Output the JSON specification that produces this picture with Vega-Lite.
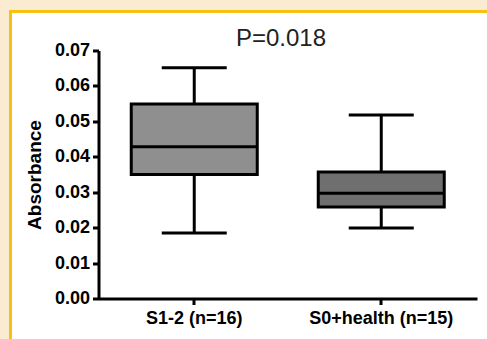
{
  "$schema": "https://vega.github.io/schema/vega-lite/v6.json",
  "autosize": {"type": "none"},
  "padding": {"left": 10.5, "top": 11.5, "right": 0, "bottom": 0},
  "width": 480,
  "height": 330,
  "background": "#FBEBD1",
  "config": {
    "view": {"fill": "white", "stroke": "#F5C211", "strokeWidth": 3},
    "font": "Liberation Sans"
  },
  "title": {
    "text": "P=0.018",
    "fontSize": 24,
    "fontWeight": "normal",
    "color": "#222222",
    "font": "Liberation Sans",
    "anchor": "middle",
    "frame": "group",
    "offset": -35.5,
    "baseline": "alphabetic",
    "dx": 30.5,
    "dy": 23
  },
  "data": {
    "values": [
      {"group": "S1-2 (n=16)", "min": 0.0185, "q1": 0.035, "median": 0.0428, "q3": 0.0549, "max": 0.0651},
      {"group": "S0+health (n=15)", "min": 0.0199, "q1": 0.0258, "median": 0.0297, "q3": 0.0357, "max": 0.0518}
    ]
  },
  "encoding": {
    "x": {
      "field": "group",
      "type": "nominal",
      "sort": null,
      "scale": {"range": [88, 466.5], "paddingInner": 0, "paddingOuter": 0.012},
      "axis": {
        "title": null,
        "labelAngle": 0,
        "labelFont": "Liberation Sans",
        "labelFontSize": 18,
        "labelFontWeight": "bold",
        "labelColor": "black",
        "labelPadding": 5,
        "tickSize": 6,
        "tickWidth": 3,
        "tickColor": "black",
        "domainWidth": 3,
        "domainColor": "black",
        "offset": -43
      }
    }
  },
  "layer": [
    {
      "mark": {"type": "rule", "color": "black", "strokeWidth": 3},
      "encoding": {
        "y": {"field": "min", "type": "quantitative", "scale": {"domain": [0, 0.07], "range": [287, 39], "nice": false},
          "axis": {"title": "Absorbance", "titleFont": "Liberation Sans", "titleFontSize": 19, "titleFontWeight": "bold", "titleColor": "black", "titlePadding": 10,
            "labelFont": "Liberation Sans", "labelFontSize": 18, "labelFontWeight": "bold", "labelColor": "black", "labelPadding": 3, "format": ".2f",
            "values": [0, 0.01, 0.02, 0.03, 0.04, 0.05, 0.06, 0.07], "tickSize": 6, "tickWidth": 3, "tickColor": "black",
            "domainColor": "black", "domainWidth": 3, "grid": false, "offset": -88, "labelFlush": false, "labelOverlap": false}},
        "y2": {"field": "q1"}
      }
    },
    {
      "mark": {"type": "rule", "color": "black", "strokeWidth": 3},
      "encoding": {
        "y": {"field": "q3", "type": "quantitative", "scale": {"domain": [0, 0.07], "range": [287, 39], "nice": false},
          "axis": {"title": "Absorbance", "titleFont": "Liberation Sans", "titleFontSize": 19, "titleFontWeight": "bold", "titleColor": "black", "titlePadding": 10,
            "labelFont": "Liberation Sans", "labelFontSize": 18, "labelFontWeight": "bold", "labelColor": "black", "labelPadding": 3, "format": ".2f",
            "values": [0, 0.01, 0.02, 0.03, 0.04, 0.05, 0.06, 0.07], "tickSize": 6, "tickWidth": 3, "tickColor": "black",
            "domainColor": "black", "domainWidth": 3, "grid": false, "offset": -88, "labelFlush": false, "labelOverlap": false}},
        "y2": {"field": "max"}
      }
    },
    {
      "mark": {"type": "bar", "size": 126, "stroke": "black", "strokeWidth": 3},
      "encoding": {
        "y": {"field": "q1", "type": "quantitative", "scale": {"domain": [0, 0.07], "range": [287, 39], "nice": false},
          "axis": {"title": "Absorbance", "titleFont": "Liberation Sans", "titleFontSize": 19, "titleFontWeight": "bold", "titleColor": "black", "titlePadding": 10,
            "labelFont": "Liberation Sans", "labelFontSize": 18, "labelFontWeight": "bold", "labelColor": "black", "labelPadding": 3, "format": ".2f",
            "values": [0, 0.01, 0.02, 0.03, 0.04, 0.05, 0.06, 0.07], "tickSize": 6, "tickWidth": 3, "tickColor": "black",
            "domainColor": "black", "domainWidth": 3, "grid": false, "offset": -88, "labelFlush": false, "labelOverlap": false}},
        "y2": {"field": "q3"},
        "fill": {"field": "group", "type": "nominal", "sort": null, "scale": {"range": ["#8f8f8f", "#6f6f6f"]}, "legend": null}
      }
    },
    {
      "mark": {"type": "tick", "color": "black", "size": 126, "thickness": 3, "opacity": 1},
      "encoding": {
        "y": {"field": "median", "type": "quantitative", "scale": {"domain": [0, 0.07], "range": [287, 39], "nice": false},
          "axis": {"title": "Absorbance", "titleFont": "Liberation Sans", "titleFontSize": 19, "titleFontWeight": "bold", "titleColor": "black", "titlePadding": 10,
            "labelFont": "Liberation Sans", "labelFontSize": 18, "labelFontWeight": "bold", "labelColor": "black", "labelPadding": 3, "format": ".2f",
            "values": [0, 0.01, 0.02, 0.03, 0.04, 0.05, 0.06, 0.07], "tickSize": 6, "tickWidth": 3, "tickColor": "black",
            "domainColor": "black", "domainWidth": 3, "grid": false, "offset": -88, "labelFlush": false, "labelOverlap": false}}
      }
    },
    {
      "mark": {"type": "tick", "color": "black", "size": 65, "thickness": 3, "opacity": 1},
      "encoding": {
        "y": {"field": "min", "type": "quantitative", "scale": {"domain": [0, 0.07], "range": [287, 39], "nice": false},
          "axis": {"title": "Absorbance", "titleFont": "Liberation Sans", "titleFontSize": 19, "titleFontWeight": "bold", "titleColor": "black", "titlePadding": 10,
            "labelFont": "Liberation Sans", "labelFontSize": 18, "labelFontWeight": "bold", "labelColor": "black", "labelPadding": 3, "format": ".2f",
            "values": [0, 0.01, 0.02, 0.03, 0.04, 0.05, 0.06, 0.07], "tickSize": 6, "tickWidth": 3, "tickColor": "black",
            "domainColor": "black", "domainWidth": 3, "grid": false, "offset": -88, "labelFlush": false, "labelOverlap": false}}
      }
    },
    {
      "mark": {"type": "tick", "color": "black", "size": 65, "thickness": 3, "opacity": 1},
      "encoding": {
        "y": {"field": "max", "type": "quantitative", "scale": {"domain": [0, 0.07], "range": [287, 39], "nice": false},
          "axis": {"title": "Absorbance", "titleFont": "Liberation Sans", "titleFontSize": 19, "titleFontWeight": "bold", "titleColor": "black", "titlePadding": 10,
            "labelFont": "Liberation Sans", "labelFontSize": 18, "labelFontWeight": "bold", "labelColor": "black", "labelPadding": 3, "format": ".2f",
            "values": [0, 0.01, 0.02, 0.03, 0.04, 0.05, 0.06, 0.07], "tickSize": 6, "tickWidth": 3, "tickColor": "black",
            "domainColor": "black", "domainWidth": 3, "grid": false, "offset": -88, "labelFlush": false, "labelOverlap": false}}
      }
    }
  ]
}
